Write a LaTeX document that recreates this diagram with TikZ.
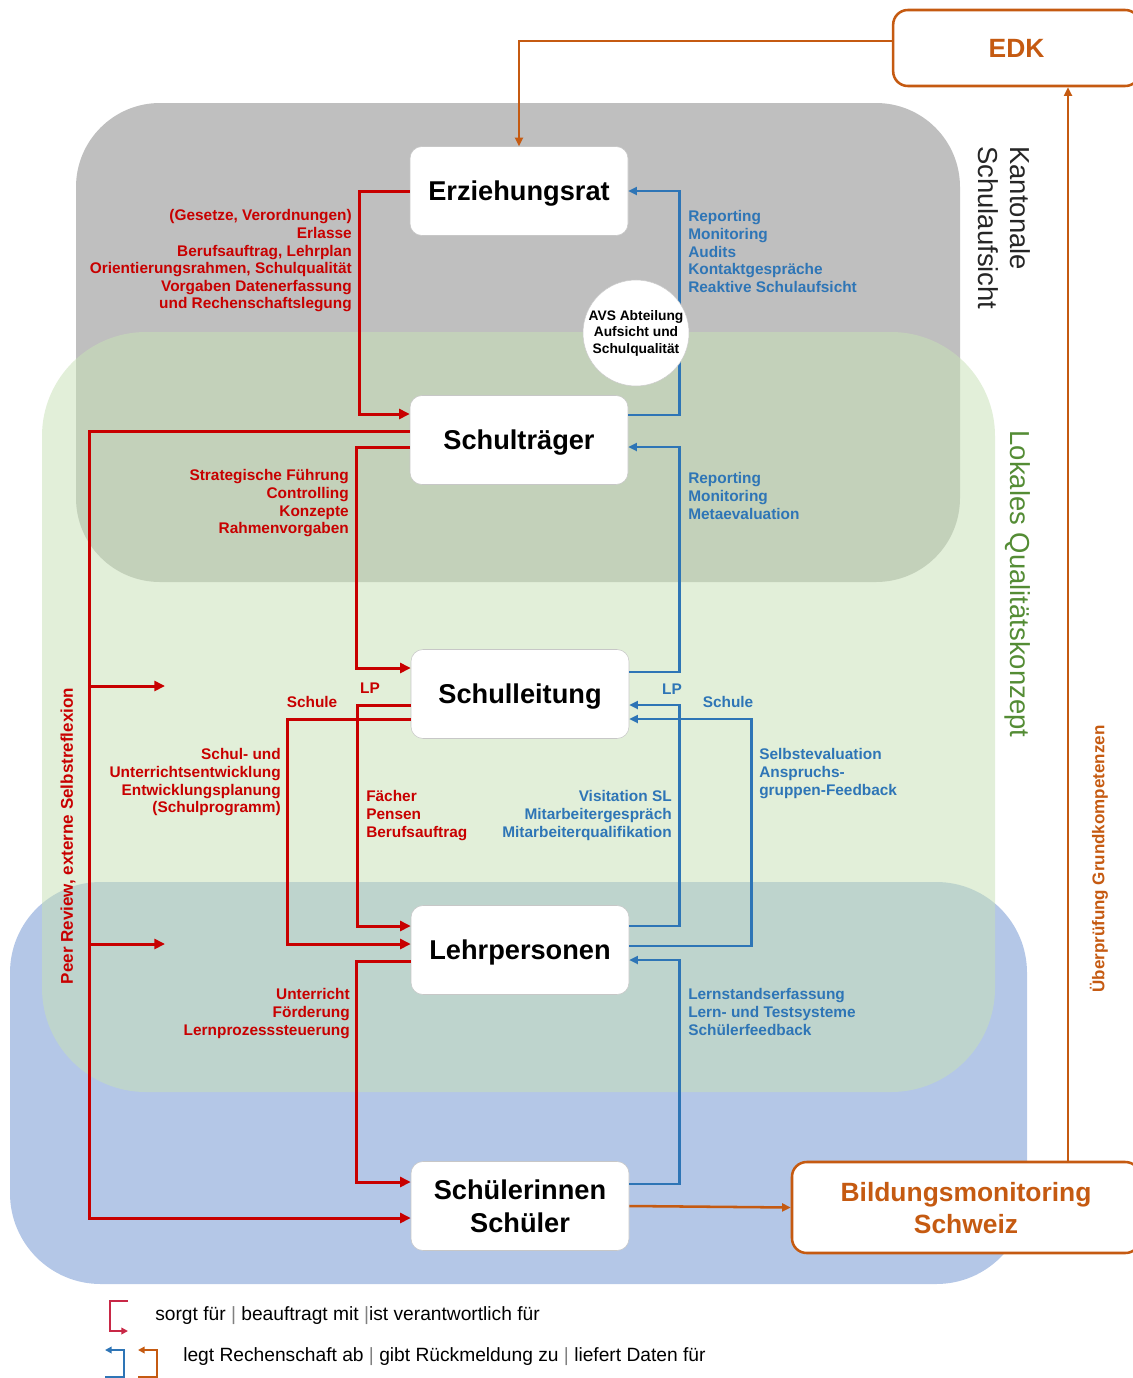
\documentclass[tikz,border=0pt]{standalone}
\usepackage{fontspec}
\setmainfont{Liberation Sans}
\usetikzlibrary{arrows.meta,calc}

\definecolor{ksred}{RGB}{200,0,0}
\definecolor{ksblue}{RGB}{46,117,182}
\definecolor{ksorange}{RGB}{197,90,17}
\definecolor{ksgreen}{RGB}{84,140,53}
\definecolor{kslegred}{RGB}{200,40,70}
\definecolor{bggray}{RGB}{191,191,191}
\definecolor{bggreen}{RGB}{200,225,183}
\definecolor{bgblue}{RGB}{180,199,231}

\begin{document}
\begin{tikzpicture}[x=0.75pt,y=0.75pt,yscale=-1,xscale=1,
    unitbox/.style={draw=black!22, fill=white, rounded corners=9pt, minimum width=163.5pt, minimum height=66.75pt, inner sep=0pt, text depth=0pt, align=center, font=\fontsize{20.4}{24.75}\selectfont\bfseries},
    edkbox/.style={draw=ksorange, line width=1.9pt, fill=white, rounded corners=11pt, inner sep=0pt, text depth=0pt, align=center, text=ksorange, font=\fontsize{19.8}{24}\selectfont\bfseries},
    redtxt/.style={text=ksred, inner sep=0.75pt, font=\fontsize{11.55}{13.2}\selectfont\bfseries},
    bluetxt/.style={text=ksblue, inner sep=0.75pt, font=\fontsize{11.55}{13.2}\selectfont\bfseries},
    redarr/.style={draw=ksred, line width=2.25pt, -{Triangle[length=8pt,width=7.5pt]}},
    bluearr/.style={draw=ksblue, line width=1.9pt, -{Triangle[length=6.5pt,width=6pt]}},
    orarr/.style={draw=ksorange, line width=1.9pt, -{Triangle[length=6.5pt,width=6pt]}}
  ]
    \useasboundingbox (0,0) rectangle (1132,1378);

    %Shape: Rounded Rect (Schueler area)
    \fill [bgblue, rounded corners=68pt] (10,882) rectangle (1027,1284);
    %Shape: Rounded Rect (kantonale Schulaufsicht)
    \fill [bggray, rounded corners=63pt] (76,103) rectangle (960,582);
    %Shape: Rounded Rect (lokales Konzept)
    \fill [bggreen, fill opacity=0.53, rounded corners=78pt] (42,332) rectangle (995,1092);

    % Units
    \draw (519,191) node (erz) [unitbox] {Erziehungsrat};
    \draw (519,440) node (st) [unitbox] {Schulträger};
    \draw (520,694) node (sl) [unitbox] {Schulleitung};
    \draw (520,950) node (lp) [unitbox] {Lehrpersonen};
    \draw (520,1206) node (sch) [unitbox] {Schülerinnen\\Schüler};
    \draw (1016.5,48) node (edk) [edkbox, minimum width=185pt, minimum height=57pt] {EDK};
    \draw (966,1207.5) node (bms) [edkbox, minimum width=261pt, minimum height=68.25pt] {Bildungsmonitoring\\Schweiz};

    %Straight Lines (red)
    \draw [redarr] (erz.west) -- ++(-50,0) |- ($(st.west)+(0,-26)$);
    \draw [redarr] ($(st.west)+(0,7)$) -- ++(-53,0) |- ($(sl.west)+(0,-26)$);
    \draw [redarr] ($(st.west)+(0,-9)$) -- ++(-320,0) coordinate (pr) |- ($(sch.west)+(0,12)$);
    \coordinate (pb1) at (165,686);
    \coordinate (pb2) at (165,944);
    \draw [redarr] (pr |- pb1) -- (pb1);
    \draw [redarr] (pr |- pb2) -- (pb2);
    \draw [redarr] ($(sl.west)+(0,11)$) -- ++(-53,0) |- ($(lp.west)+(0,-24)$);
    \draw [redarr] ($(sl.west)+(0,25)$) -- ++(-123,0) |- ($(lp.west)+(0,-6)$);
    \draw [redarr] ($(lp.west)+(0,11)$) -- ++(-54,0) |- ($(sch.west)+(0,-24)$);

    %Straight Lines (blue)
    \draw [bluearr] ($(st.east)+(0,-25)$) -- ++(51,0) |- (erz.east);
    \draw [bluearr] ($(sl.east)+(0,-22)$) -- ++(50,0) |- ($(st.east)+(0,7)$);
    \draw [bluearr] ($(lp.east)+(0,-24)$) -- ++(50,0) |- ($(sl.east)+(0,11)$);
    \draw [bluearr] ($(lp.east)+(0,-4)$) -- ++(122,0) |- ($(sl.east)+(0,25)$);
    \draw [bluearr] ($(sch.east)+(0,-22)$) -- ++(50,0) |- ($(lp.east)+(0,10)$);

    %Straight Lines (orange)
    \draw [orarr] ($(edk.west)+(0,-7)$) -| (erz.north);
    \draw [orarr] ($(bms.north)+(102,0)$) coordinate (up) -- (up |- edk.south);
    \draw [orarr] (sch.east) -- (bms.west);

    % Circle
    \draw (636,333) node (avs) [circle, draw=black!20, fill=white, minimum size=79.5pt, inner sep=0pt, align=center, font=\fontsize{10.35}{12.4}\selectfont\bfseries] {AVS Abteilung\\Aufsicht und\\Schulqualität};

    % Text Node
    \draw (353,208.5) node (t1) [redtxt, anchor=north east, align=right] {(Gesetze, Verordnungen)\\Erlasse\\Berufsauftrag, Lehrplan\\Orientierungsrahmen, Schulqualität\\Vorgaben Datenerfassung\\und Rechenschaftslegung};
    % Text Node
    \draw (350,468.5) node (t2) [redtxt, anchor=north east, align=right] {Strategische Führung\\Controlling\\Konzepte\\Rahmenvorgaben};
    % Text Node
    \draw (312,702) node (t3) [redtxt] {Schule};
    % Text Node
    \draw (370,688) node (t4) [redtxt] {LP};
    % Text Node
    \draw (282,747.5) node (t5) [redtxt, anchor=north east, align=right] {Schul- und\\Unterrichtsentwicklung\\Entwicklungsplanung\\(Schulprogramm)};
    % Text Node
    \draw (365,789.5) node (t6) [redtxt, anchor=north west, align=left] {Fächer\\Pensen\\Berufsauftrag};
    % Text Node
    \draw (351,987.5) node (t7) [redtxt, anchor=north east, align=right] {Unterricht\\Förderung\\Lernprozesssteuerung};

    % Text Node
    \draw (687,209.5) node (b1) [bluetxt, anchor=north west, align=left] {Reporting\\Monitoring\\Audits\\Kontaktgespräche\\Reaktive Schulaufsicht};
    % Text Node
    \draw (687,471.5) node (b2) [bluetxt, anchor=north west, align=left] {Reporting\\Monitoring\\Metaevaluation};
    % Text Node
    \draw (672,689) node (b3) [bluetxt] {LP};
    % Text Node
    \draw (728,702) node (b4) [bluetxt] {Schule};
    % Text Node
    \draw (758,747.5) node (b5) [bluetxt, anchor=north west, align=left] {Selbstevaluation\\Anspruchs-\\gruppen-Feedback};
    % Text Node
    \draw (673,789.5) node (b6) [bluetxt, anchor=north east, align=right] {Visitation SL\\Mitarbeitergespräch\\Mitarbeiterqualifikation};
    % Text Node
    \draw (687,987.5) node (b7) [bluetxt, anchor=north west, align=left] {Lernstandserfassung\\Lern- und Testsysteme\\Schülerfeedback};

    % Side titles
    \draw (1031,146) node (kant) [rotate=-90, anchor=north west, align=left, inner sep=0pt, text=black!85, font=\fontsize{20.6}{24}\selectfont] {Kantonale\\Schulaufsicht};
    \draw (1018,584) node (lok) [rotate=-90, inner sep=0pt, text=ksgreen, font=\fontsize{20.6}{24}\selectfont] {Lokales Qualitätskonzept};
    \draw (1099,859) node (ueb) [rotate=90, inner sep=0pt, text=ksorange, font=\fontsize{12.75}{15}\selectfont\bfseries] {Überprüfung Grundkompetenzen};
    \draw (68,836) node (peer) [rotate=90, inner sep=0pt, text=ksred, font=\fontsize{12.75}{15}\selectfont\bfseries] {Peer Review, externe Selbstreflexion};

    % Legend
    \draw [kslegred, line width=1.9pt, -{Triangle[length=5pt,width=5pt]}] (128,1301) -- (110,1301) -- (110,1331) -- (128,1331);
    \draw [ksblue, line width=1.9pt, -{Triangle[length=5pt,width=5pt]}] (105,1377) -- (124,1377) -- (124,1350) -- (105,1350);
    \draw [ksorange, line width=1.9pt, -{Triangle[length=5pt,width=5pt]}] (138,1377) -- (157,1377) -- (157,1350) -- (138,1350);
    \draw (155,1316) node (leg1) [anchor=west, inner sep=0pt, font=\fontsize{14.4}{17}\selectfont] {sorgt für {\color{black!50}|} beauftragt mit {\color{black!50}|}ist verantwortlich für};
    \draw (183,1357) node (leg2) [anchor=west, inner sep=0pt, font=\fontsize{14.4}{17}\selectfont] {legt Rechenschaft ab {\color{black!50}|} gibt Rückmeldung zu {\color{black!50}|} liefert Daten für};
\end{tikzpicture}
\end{document}
